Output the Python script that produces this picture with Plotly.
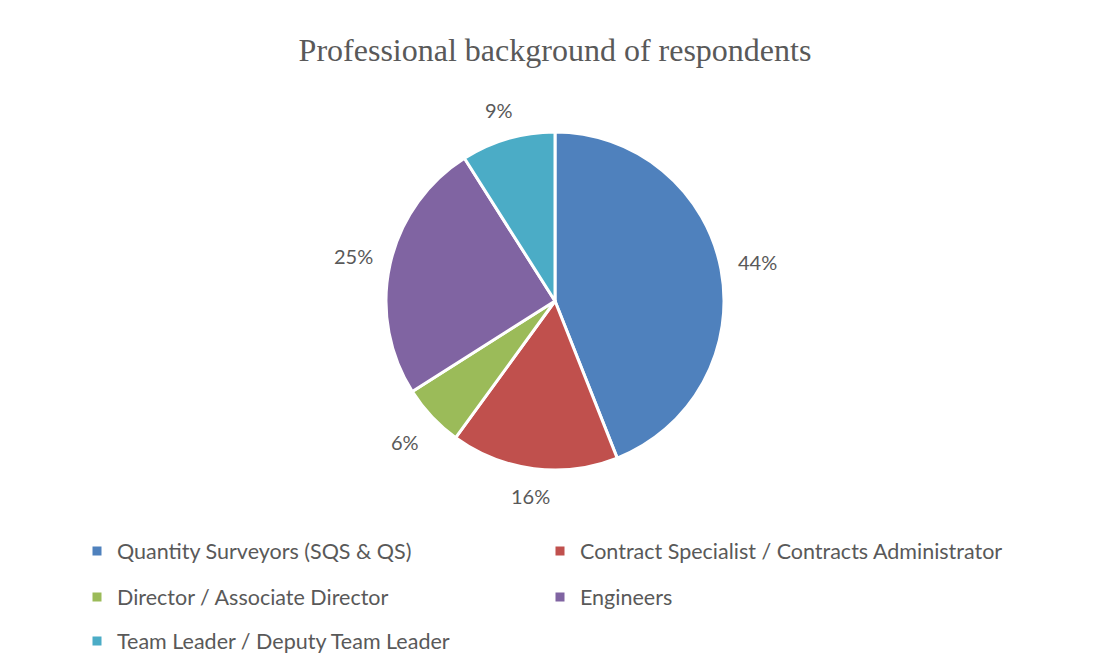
import math
import plotly.graph_objects as go

# Survey data
categories = [
    "Quantity Surveyors (SQS & QS)",
    "Contract Specialist / Contracts Administrator",
    "Director / Associate Director",
    "Engineers",
    "Team Leader / Deputy Team Leader",
]
shares = [44, 16, 6, 25, 9]
colors = ["#4F81BD", "#C0504D", "#9BBB59", "#8064A2", "#4BACC6"]

W, H = 1100, 670
TEXT = "#595959"
SANS = "Lato, 'Liberation Sans', sans-serif"

# Pie geometry in pixels
cx, cy, R = 555, 301, 169

fig = go.Figure()
fig.add_trace(go.Pie(
    labels=categories,
    values=shares,
    sort=False,
    direction="clockwise",
    rotation=0,
    marker=dict(colors=colors, line=dict(color="white", width=3)),
    textinfo="none",
    hoverinfo="label+percent",
    showlegend=False,
    domain=dict(x=[(cx - R) / W, (cx + R) / W],
                y=[1 - (cy + R) / H, 1 - (cy - R) / H]),
))

# Percentage labels placed outside each slice, around its mid-angle
total = sum(shares)
cum = 0
annotations = []
for v in shares:
    mid = (cum + v / 2) / total * 2 * math.pi
    cum += v
    dx, dy = math.sin(mid), math.cos(mid)
    r = R + 16 + 20 * abs(dx) + 9 * abs(dy)
    px = cx + r * dx
    py = cy - r * dy
    annotations.append(dict(
        x=px / W, y=1 - py / H, xref="paper", yref="paper",
        text=f"{round(v / total * 100)}%", showarrow=False,
        font=dict(family=SANS, size=20, color=TEXT),
        xanchor="center", yanchor="middle",
    ))

# Legend: two columns, three rows
legend_names = ["legend", "legend2", "legend3"]
for i, (name, col) in enumerate(zip(categories, colors)):
    fig.add_trace(go.Scatter(
        x=[None], y=[None], mode="markers", name=name,
        marker=dict(symbol="square", size=9, color=col),
        legend=legend_names[i // 2],
    ))

row_y = [551, 597, 641]
leg_x = 77
legend_common = dict(
    orientation="h", xanchor="left", yanchor="middle",
    x=leg_x / W, entrywidth=418, entrywidthmode="pixels",
    font=dict(family=SANS, size=21.5, color=TEXT),
    bgcolor="rgba(0,0,0,0)", itemclick=False, itemdoubleclick=False,
)

fig.update_layout(
    width=W, height=H,
    margin=dict(l=0, r=0, t=0, b=0, autoexpand=False),
    paper_bgcolor="white", plot_bgcolor="white",
    title=dict(text="Professional background of respondents",
               x=555 / W, xanchor="center", y=1 - 50 / H, yanchor="middle",
               font=dict(family="'Liberation Serif', 'Times New Roman', serif",
                         size=32, color=TEXT)),
    xaxis=dict(visible=False), yaxis=dict(visible=False),
    legend=dict(y=1 - row_y[0] / H, **legend_common),
    legend2=dict(y=1 - row_y[1] / H, **legend_common),
    legend3=dict(y=1 - row_y[2] / H, **legend_common),
    annotations=annotations,
)

fig.write_html("out.html")
